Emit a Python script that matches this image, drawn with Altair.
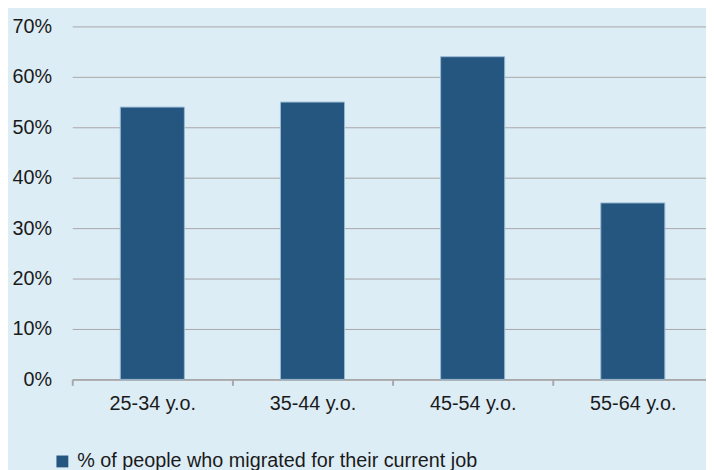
import json
import altair as alt
import pandas as pd

categories = ["25-34 y.o.", "35-44 y.o.", "45-54 y.o.", "55-64 y.o."]
values = [0.54, 0.55, 0.64, 0.35]
series_name = "% of people who migrated for their current job"
y_ticks = [0, 0.1, 0.2, 0.3, 0.4, 0.5, 0.6, 0.7]
x_boundaries = [i - 0.5 for i in range(len(categories) + 1)]

df = pd.DataFrame({
    "idx": list(range(len(categories))),
    "age": categories,
    "share": values,
    "series": [series_name] * len(categories),
})

FONT = "Liberation Sans"
TEXT = "#1a1a1a"
GRID = "#a8a8a8"

label_expr = json.dumps(categories) + "[round(datum.value + 0.5)] || ''"

chart = alt.Chart(df).mark_bar(stroke="#9ab9d3", strokeWidth=1).transform_calculate(
    x0="datum.idx - 0.2", x1="datum.idx + 0.2"
).encode(
    x=alt.X(
        "x0:Q",
        title=None,
        scale=alt.Scale(domain=[-0.5, 3.457], nice=False, zero=False),
        axis=alt.Axis(
            values=x_boundaries,
            labelExpr=label_expr,
            labelOffset=81,
            labelFlush=False,
            labelOverlap=False,
            labelBound=False,
            domainColor=GRID,
            domainWidth=2,
            tickColor=GRID,
            tickWidth=2,
            tickSize=6,
            labelPadding=8,
            grid=False,
        ),
    ),
    x2="x1:Q",
    y=alt.Y(
        "share:Q",
        title=None,
        stack=None,
        scale=alt.Scale(domain=[0, 0.7], nice=False),
        axis=alt.Axis(
            format=".0%",
            values=y_ticks,
            domain=False,
            ticks=False,
            tickSize=0,
            labelPadding=21,
            grid=True,
            gridColor=GRID,
            gridWidth=1,
        ),
    ),
    y2=alt.Y2(datum=0),
    color=alt.Color(
        "series:N",
        scale=alt.Scale(range=["#25567f"]),
        legend=alt.Legend(
            title=None,
            orient="none",
            legendX=-20,
            legendY=430,
            symbolType="square",
            symbolSize=144,
            symbolStrokeWidth=0,
            labelOffset=5,
            padding=0,
        ),
    ),
).properties(
    width=641,
    height=357,
    padding={"left": 65, "top": 16, "right": 0, "bottom": 89},
    autosize="none",
).configure(
    background="#ddedf6",
).configure_view(
    stroke=None,
).configure_axis(
    labelFont=FONT,
    labelFontSize=20,
    labelColor=TEXT,
).configure_legend(
    labelFont=FONT,
    labelFontSize=20,
    labelColor=TEXT,
    labelLimit=0,
)

chart.save("out.html", embed_options={"renderer": "svg", "actions": False})
